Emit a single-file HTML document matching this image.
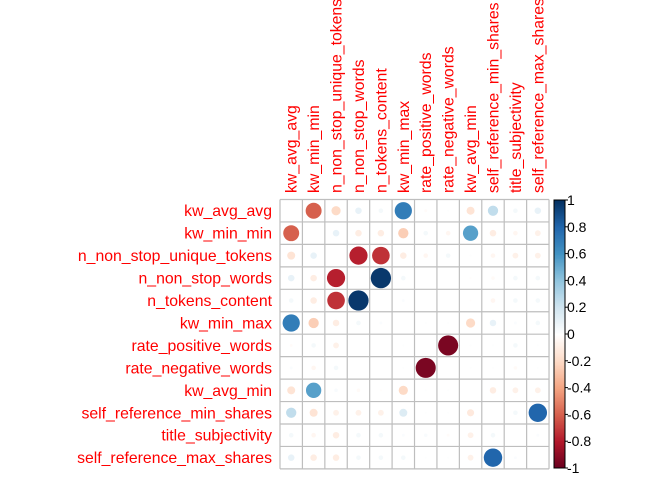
<!DOCTYPE html>
<html><head><style>body{margin:0;background:#fff}svg{display:block}</style></head>
<body>
<svg id="s" width="672" height="480" xmlns="http://www.w3.org/2000/svg" font-family="Liberation Sans, Arial, sans-serif"></svg>
<script>
const names=["kw_avg_avg","kw_min_min","n_non_stop_unique_tokens","n_non_stop_words","n_tokens_content","kw_min_max","rate_positive_words","rate_negative_words","kw_avg_min","self_reference_min_shares","title_subjectivity","self_reference_max_shares"];
const M=[
[0,-0.6,-0.2,0.1,0.05,0.7,-0.02,0.01,-0.15,0.25,0.05,0.1],
[-0.6,0,0.1,-0.1,-0.1,-0.25,0.05,-0.05,0.55,-0.1,-0.05,-0.08],
[-0.15,0.1,0,-0.78,-0.73,-0.1,-0.05,0.05,0.01,-0.05,-0.08,-0.08],
[0.1,-0.1,-0.78,0,0.97,0.05,0,0,-0.01,-0.03,0.05,0.05],
[0.05,-0.1,-0.73,0.97,0,0.02,0,0,-0.01,-0.05,0.05,0.05],
[0.7,-0.25,-0.1,0.05,0.02,0,0.01,0.01,-0.2,0.1,0.02,0.05],
[-0.02,0.05,-0.08,0,0,0.01,0,-0.95,0.01,0.01,0.05,0.01],
[0.02,-0.05,0.05,0,0,0.01,-0.95,0,0.01,0.01,-0.03,0.01],
[-0.15,0.55,0.03,-0.03,-0.01,-0.2,0.01,0.01,0,-0.1,-0.08,-0.08],
[0.25,-0.15,-0.08,-0.08,-0.08,0.15,0.01,0.01,-0.12,0,0.05,0.8],
[0.05,-0.05,-0.1,0.05,0.05,0.02,0.03,-0.02,-0.08,0.05,0,0.02],
[0.1,-0.1,-0.1,0.05,0.05,0.05,0.01,0.01,-0.08,0.8,0.02,0]];
const stops=["#67001F","#B2182B","#D6604D","#F4A582","#FDDBC7","#FFFFFF","#D1E5F0","#92C5DE","#4393C3","#2166AC","#053061"];
function hex(h){return [1,3,5].map(i=>parseInt(h.substr(i,2),16))}
function col(v){let t=(v+1)*5;let i=Math.min(9,Math.floor(t));let f=t-i;let a=hex(stops[i]),b=hex(stops[i+1]);return "rgb("+a.map((x,k)=>Math.round(x+(b[k]-x)*f)).join(",")+")";}
const x0=280,y0=199.5,cw=22.42,ch=22.45;let h="";
for(let i=0;i<12;i++)for(let j=0;j<12;j++){
 const v=M[i][j];const cx=x0+(j+.5)*cw,cy=y0+(i+.5)*ch;
 if(v!==0)h+=`<circle cx="${cx}" cy="${cy}" r="${(10.3*Math.sqrt(Math.abs(v))).toFixed(2)}" fill="${col(v)}"/>`;
}
for(let k=0;k<=12;k++){h+=`<line x1="${x0+k*cw}" y1="${y0}" x2="${x0+k*cw}" y2="${y0+12*ch}" stroke="#bebebe" stroke-width="1.2"/>`;
h+=`<line x1="${x0}" y1="${y0+k*ch}" x2="${x0+12*cw}" y2="${y0+k*ch}" stroke="#bebebe" stroke-width="1.2"/>`;}
names.forEach((n,i)=>{
 h+=`<text x="272" y="${y0+(i+.5)*ch+5.5}" text-anchor="end" font-size="15.8" fill="#ff0000">${n}</text>`;
 const cx=x0+(i+.5)*cw+5.5;
 h+=`<text transform="translate(${cx},193) rotate(-90)" font-size="15.8" fill="#ff0000">${n}</text>`;
});
const bx=554,bw=11,by=200,bh=268;
for(let k=0;k<200;k++){const v=1-2*k/200;h+=`<rect x="${bx}" y="${by+k*bh/200}" width="${bw}" height="${bh/200+0.5}" fill="${col(v)}"/>`;}
h+=`<rect x="${bx}" y="${by}" width="${bw}" height="${bh}" fill="none" stroke="#000" stroke-width="1"/>`;
const labs=["1","0.8","0.6","0.4","0.2","0","-0.2","-0.4","-0.6","-0.8","-1"];
for(let k=0;k<=10;k++){const y=by+k*bh/10;
h+=`<line x1="${bx+bw}" y1="${y}" x2="${bx+bw+3}" y2="${y}" stroke="#000"/>`;
h+=`<text x="${bx+bw+2}" y="${y+5}" font-size="14" fill="#000">${labs[k]}</text>`;}
document.getElementById("s").innerHTML=h;
</script>
</body></html>
